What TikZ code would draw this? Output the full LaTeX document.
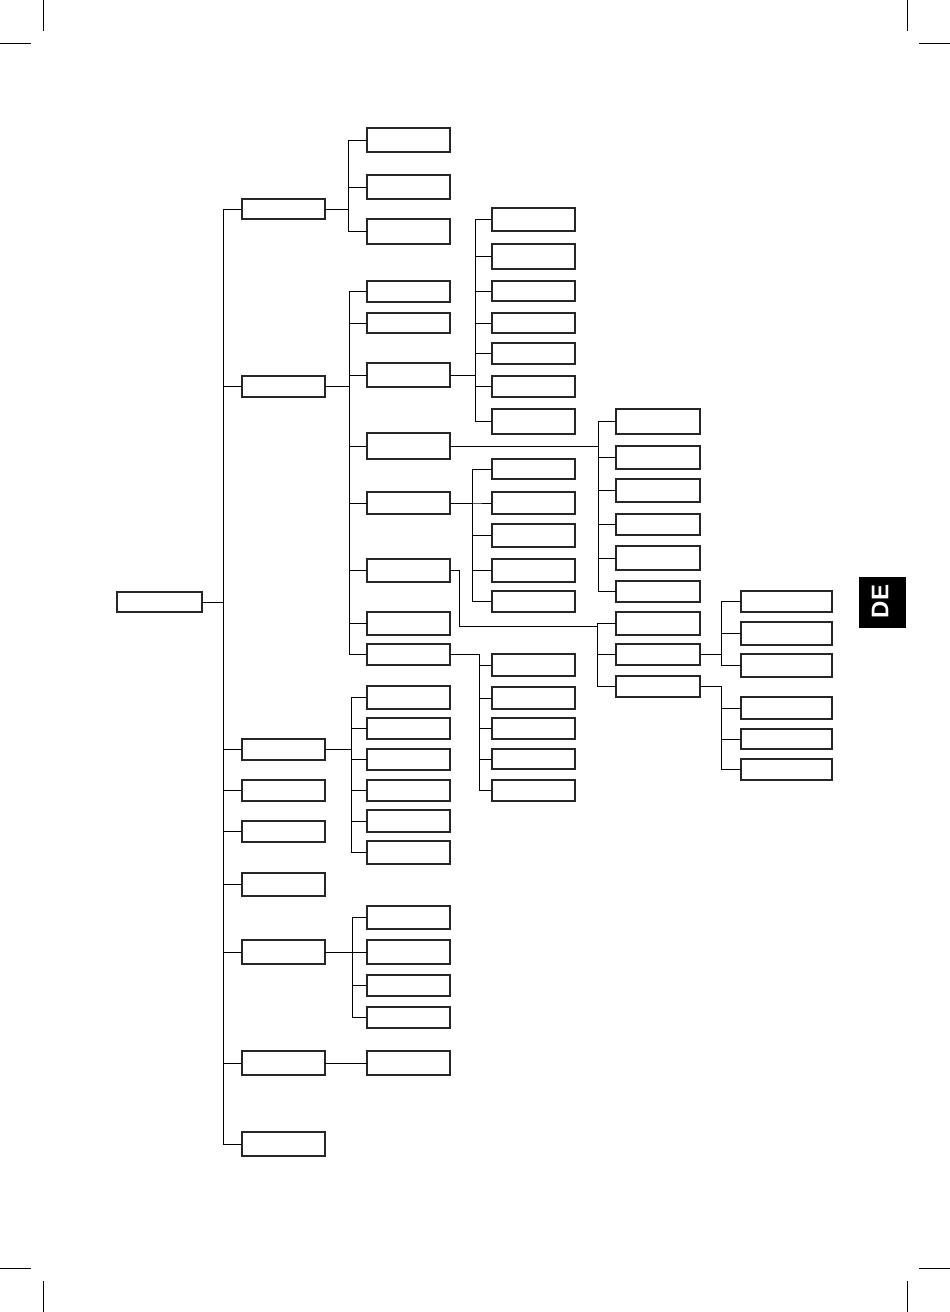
\documentclass[tikz,border=0pt]{standalone}
\usepackage{fontspec}
\newfontfamily\tabfont{Liberation Sans}
\newcommand\bx[5]{\node[box,minimum width={#4-#2},minimum height={#5-#3}] (#1) at ({(#2+#4)/2},{(#3+#5)/2}) {};}
\newcommand\fan[3]{%
  \coordinate (bus-#1) at (#2,0);
  \foreach \ch in {#3} {\draw[link] (#1.east) -| (bus-#1 |- \ch.west) -- (\ch.west);}%
}
\begin{document}
\begin{tikzpicture}[x=1pt,y=-1pt,
  box/.style={draw=black!85,line width=1.3pt,inner sep=0pt,outer sep=0pt,fill=white},
  link/.style={draw=black,line width=0.9pt},
  crop/.style={draw=black,line width=0.9pt}]
\useasboundingbox (0,0) rectangle (950,1312);
\fill[white] (0,0) rectangle (950,1312);
% crop marks
\draw[crop] (43,0) -- (43,31);
\draw[crop] (0,43) -- (31,43);
\draw[crop] (907,0) -- (907,31);
\draw[crop] (919,43) -- (950,43);
\draw[crop] (0,1268) -- (31,1268);
\draw[crop] (43,1281) -- (43,1312);
\draw[crop] (919,1268) -- (950,1268);
\draw[crop] (907,1281) -- (907,1312);
% root
\bx{r}{117}{592}{202}{612}
% level 1
\foreach \n/\ya/\yb in {a1/199/219,a2/376/397,a3/739/760,a4/780/801,a5/821/842,a6/873/896,a7/940/964,a8/1051/1075,a9/1132/1156}
  {\bx{\n}{242}{\ya}{325}{\yb}}
% level 2
\foreach \n/\ya/\yb in {b11/128/152,b12/175/199,b13/219/244,
  b21/281/302,b22/313/333,b23/363/387,b24/433/459,b25/492/514,b26/559/582,b27/612/635,b28/644/665,
  b31/686/709,b32/718/739,b33/749/770,b34/780/801,b35/810/832,b36/841/864,
  b71/906/929,b72/940/964,b73/975/996,b74/1007/1028,b81/1051/1075}
  {\bx{\n}{367}{\ya}{450}{\yb}}
% level 3
\foreach \n/\ya/\yb in {c1/208/231,c2/244/269,c3/281/301,c4/313/333,c5/343/364,c6/376/397,c7/409/434,
  e1/459/479,e2/492/514,e3/524/547,e4/559/582,e5/591/612,
  h1/654/676,h2/687/709,h3/718/739,h4/749/769,h5/780/801}
  {\bx{\n}{492}{\ya}{575}{\yb}}
% level 4
\foreach \n/\ya/\yb in {d1/409/434,d2/446/469,d3/479/502,d4/514/535,d5/546/570,d6/581/602,
  f1/612/635,f2/644/665,f3/676/697}
  {\bx{\n}{616}{\ya}{700}{\yb}}
% level 5
\foreach \n/\ya/\yb in {g1/591/612,g2/622/645,g3/654/677,k1/697/719,k2/729/749,k3/759/780}
  {\bx{\n}{741}{\ya}{832}{\yb}}
% connectors
\fan{r}{223}{a1,a2,a3,a4,a5,a6,a7,a8,a9}
\fan{a1}{348}{b11,b12,b13}
\fan{a2}{349}{b21,b22,b23,b24,b25,b26,b27,b28}
\fan{a3}{351}{b31,b32,b33,b34,b35,b36}
\fan{a7}{352}{b71,b72,b73,b74}
\draw[link] (a8.east) -- (b81.west);
\fan{b23}{475}{c1,c2,c3,c4,c5,c6,c7}
\fan{b25}{472}{e1,e2,e3,e4,e5}
\fan{b28}{479}{h1,h2,h3,h4,h5}
\fan{b24}{598}{d1,d2,d3,d4,d5,d6}
\coordinate (felbow) at (459,626);
\coordinate (fbus) at (597,0);
\foreach \ch in {f1,f2,f3} {\draw[link] (b26.east) -| (felbow) -| (fbus |- \ch.west) -- (\ch.west);}
\fan{f2}{721}{g1,g2,g3}
\fan{f3}{721}{k1,k2,k3}
% language tab
\node[fill=black,minimum width=47,minimum height=51,inner sep=0pt] (tab) at (882.5,602.5) {};
\node[text=white,rotate=90,inner sep=0pt,font=\tabfont\bfseries\fontsize{24}{24}\selectfont] (de) at (880,601.5) {DE};
\end{tikzpicture}
\end{document}
